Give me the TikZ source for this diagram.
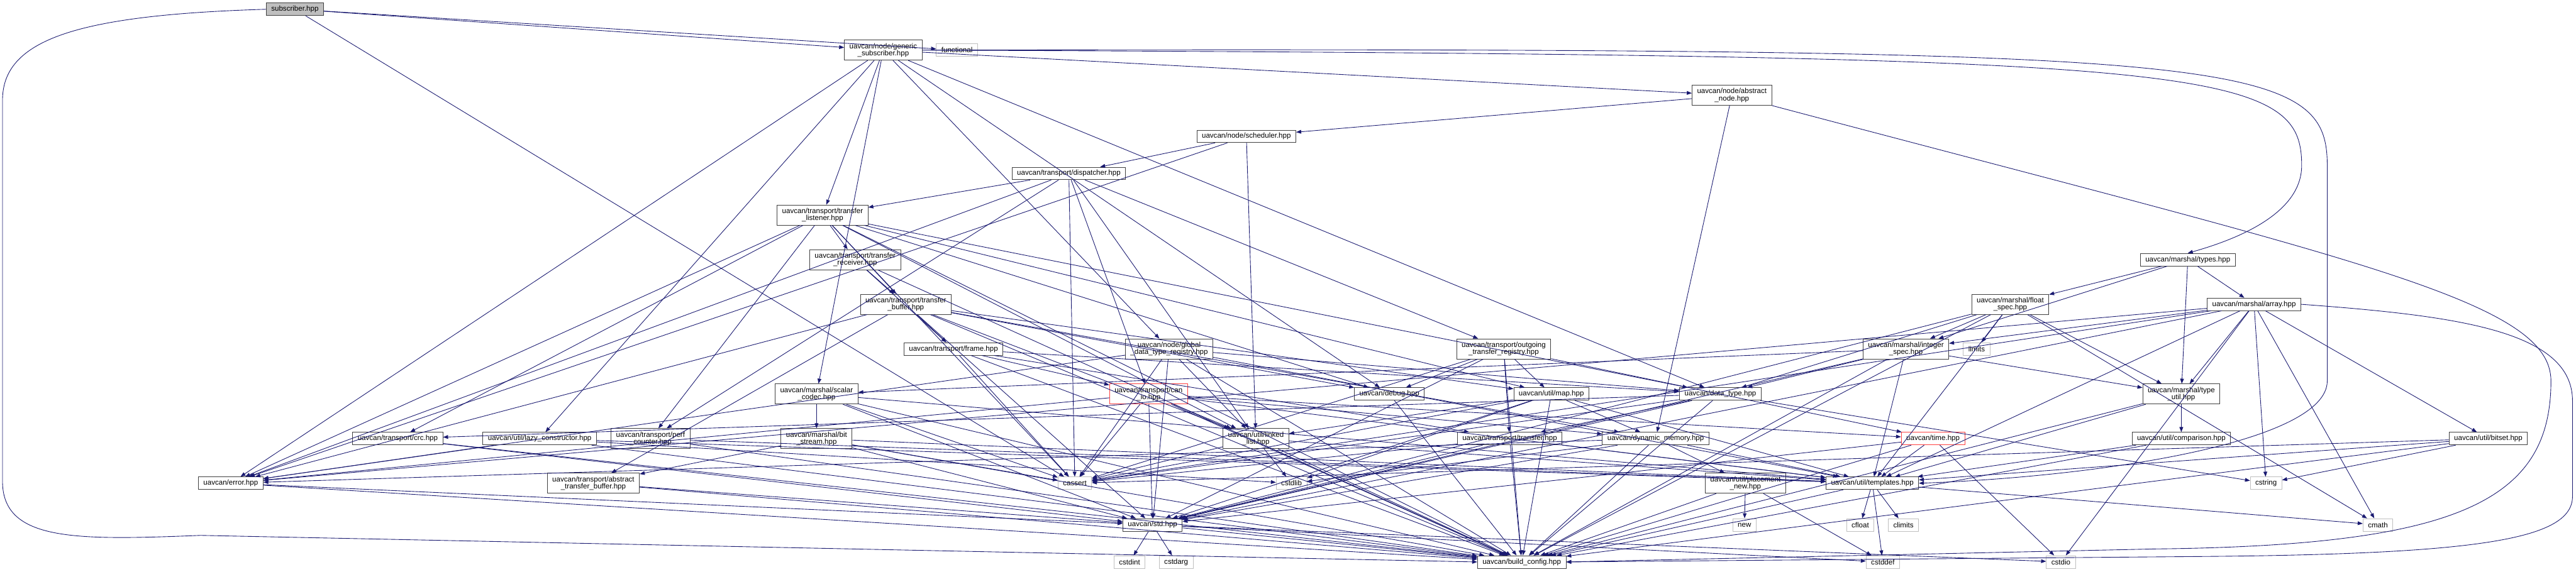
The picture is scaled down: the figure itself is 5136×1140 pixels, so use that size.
\documentclass[tikz,border=0pt]{standalone}
\usepackage{fontspec}
\setmainfont{Liberation Sans}
\usepackage{xcolor}
\usetikzlibrary{arrows.meta}
\definecolor{edgeblue}{HTML}{191970}
\definecolor{extgray}{HTML}{BFBFBF}
\definecolor{boxgray}{HTML}{404040}
\definecolor{cutred}{HTML}{FF4040}

\begin{document}
\begin{tikzpicture}[x=1pt,y=1pt,
  file/.style={draw=boxgray,line width=1.1pt,fill=white,font=\fontsize{14.5}{14}\selectfont,
    inner xsep=10pt,inner ysep=3pt,minimum height=25pt,align=center},
  twoline/.style={minimum height=40pt},
  sys/.style={file,draw=extgray},
  cut/.style={file,draw=cutred},
  topfile/.style={file,fill=extgray},
  inc/.style={draw=edgeblue,line width=1.1pt,-{Triangle[length=10pt,width=7.5pt]}}]
\useasboundingbox (0,0) rectangle (5136,-1140);
% files, row by row
\node[topfile] (sub) at (588,-18.5) {subscriber.hpp};
\node[file,twoline] (gsub) at (1761,-100) {uavcan/node/generic\\\_subscriber.hpp};
\node[sys] (func) at (1908,-100) {functional};
\node[file,twoline] (anode) at (3453,-190) {uavcan/node/abstract\\\_node.hpp};
\node[file] (sched) at (2485,-272) {uavcan/node/scheduler.hpp};
\node[file] (disp) at (2131,-346) {uavcan/transport/dispatcher.hpp};
\node[file,twoline] (tlis) at (1640,-429) {uavcan/transport/transfer\\\_listener.hpp};
\node[file,twoline] (trec) at (1705,-518) {uavcan/transport/transfer\\\_receiver.hpp};
\node[file] (types) at (4362,-518) {uavcan/marshal/types.hpp};
\node[file,twoline] (tbuf) at (1806,-607) {uavcan/transport/transfer\\\_buffer.hpp};
\node[file,twoline] (fspec) at (4008,-607) {uavcan/marshal/float\\\_spec.hpp};
\node[file] (array) at (4494,-607) {uavcan/marshal/array.hpp};
\node[file] (frame) at (1901,-696) {uavcan/transport/frame.hpp};
\node[file,twoline] (gdtr) at (2331,-696) {uavcan/node/global\\\_data\_type\_registry.hpp};
\node[file,twoline] (otr) at (2998,-696) {uavcan/transport/outgoing\\\_transfer\_registry.hpp};
\node[file,twoline] (ispec) at (3800,-696) {uavcan/marshal/integer\\\_spec.hpp};
\node[sys] (limits) at (3941,-696) {limits};
\node[file,twoline] (scodec) at (1628,-786) {uavcan/marshal/scalar\\\_codec.hpp};
\node[cut,twoline] (canio) at (2290,-786) {uavcan/transport/can\\\_io.hpp};
\node[file] (debug) at (2770,-786) {uavcan/debug.hpp};
\node[file] (map) at (3093,-786) {uavcan/util/map.hpp};
\node[file] (dtype) at (3430,-786) {uavcan/data\_type.hpp};
\node[file,twoline] (tutil) at (4349,-786) {uavcan/marshal/type\\\_util.hpp};
\node[file] (crc) at (793,-875) {uavcan/transport/crc.hpp};
\node[file] (lazy) at (1076,-875) {uavcan/util/lazy\_constructor.hpp};
\node[file,twoline] (perf) at (1297,-875) {uavcan/transport/perf\\\_counter.hpp};
\node[file,twoline] (bstream) at (1628,-875) {uavcan/marshal/bit\\\_stream.hpp};
\node[file,twoline] (llist) at (2504,-875) {uavcan/util/linked\\\_list.hpp};
\node[file] (transfer) at (3010,-875) {uavcan/transport/transfer.hpp};
\node[file] (dynmem) at (3301,-875) {uavcan/dynamic\_memory.hpp};
\node[cut] (time) at (3854,-875) {uavcan/time.hpp};
\node[file] (cmp) at (4349,-875) {uavcan/util/comparison.hpp};
\node[file] (bitset) at (4961,-875) {uavcan/util/bitset.hpp};
\node[file] (error) at (460,-964) {uavcan/error.hpp};
\node[file,twoline] (atbuf) at (1183,-964) {uavcan/transport/abstract\\\_transfer\_buffer.hpp};
\node[sys] (cassert) at (2143,-964) {cassert};
\node[sys] (cstdlib) at (2575,-964) {cstdlib};
\node[file,twoline] (pnew) at (3480,-964) {uavcan/util/placement\\\_new.hpp};
\node[file] (templ) at (3733,-964) {uavcan/util/templates.hpp};
\node[sys] (cstring) at (4518,-964) {cstring};
\node[file] (std) at (2298,-1047) {uavcan/std.hpp};
\node[sys] (new) at (3478,-1047) {new};
\node[sys] (cfloat) at (3709,-1047) {cfloat};
\node[sys] (climits) at (3795,-1047) {climits};
\node[sys] (cmath) at (4741,-1047) {cmath};
\node[sys] (cstdint) at (2252,-1121) {cstdint};
\node[sys] (cstdarg) at (2345,-1121) {cstdarg};
\node[file] (bconf) at (3034,-1121) {uavcan/build\_config.hpp};
\node[sys] (cstddef) at (3754,-1121) {cstddef};
\node[sys] (cstdio) at (4109,-1121) {cstdio};
% way points of the long edges
\coordinate (lefttop) at (5,-200);
\coordinate (leftbot) at (5,-960);
\coordinate (leftfoot) at (400,-1068);
\coordinate (typesdrop) at (4589,-330);
\coordinate (templtop) at (4640,-330);
\coordinate (templbot) at (4640,-760);
\coordinate (nodeside) at (5086,-760);
\coordinate (nodefoot) at (4300,-1095);
\coordinate (arraytop) at (5129,-800);
\coordinate (arraybot) at (5129,-990);
\coordinate (arrayfoot) at (4400,-1110);
% includes
\foreach \s/\t in {sub/gsub,sub/func,sub/cassert,
  gsub/anode,gsub/tlis,gsub/gdtr,gsub/debug,gsub/dtype,gsub/error,gsub/lazy,gsub/scodec,
  anode/sched,anode/dynmem,
  sched/disp,sched/error,sched/llist,
  disp/tlis,disp/otr,disp/canio,disp/cassert,disp/error,disp/perf,disp/llist,
  tlis/trec,tlis/error,tlis/perf,tlis/crc,tlis/tbuf,tlis/llist,tlis/map,tlis/debug,tlis/dtype,tlis/bconf,tlis/cassert,
  trec/tbuf,trec/frame,trec/bconf,
  tbuf/frame,tbuf/atbuf,tbuf/llist,tbuf/dynmem,tbuf/error,tbuf/debug,tbuf/map,tbuf/bconf,tbuf/std,
  frame/canio,frame/cassert,frame/transfer,frame/dtype,frame/bconf,
  gdtr/llist,gdtr/cassert,gdtr/error,gdtr/dtype,gdtr/templ,gdtr/std,gdtr/bconf,
  otr/debug,otr/map,otr/transfer,otr/time,otr/cassert,otr/std,otr/bconf,
  types/ispec,types/fspec,types/tutil,types/array,
  fspec/ispec,fspec/limits,fspec/dtype,fspec/templ,fspec/tutil,fspec/cmath,fspec/std,fspec/bconf,
  array/tutil,array/bitset,array/cstring,array/cmath,array/ispec,array/templ,array/cassert,array/cstdio,array/error,array/std,
  ispec/dtype,ispec/scodec,ispec/tutil,ispec/templ,ispec/std,ispec/bconf,
  tutil/cmp,tutil/templ,tutil/bconf,cmp/templ,cmp/bconf,
  bitset/cstring,bitset/cassert,bitset/templ,bitset/bconf,
  scodec/bstream,scodec/cassert,scodec/templ,scodec/std,scodec/bconf,
  bstream/atbuf,bstream/templ,bstream/std,bstream/bconf,bstream/cassert,
  atbuf/std,atbuf/bconf,perf/templ,perf/bconf,
  lazy/error,lazy/cstdlib,lazy/templ,lazy/bconf,
  crc/std,crc/bconf,error/std,error/bconf,
  canio/cassert,canio/std,canio/llist,canio/dynmem,canio/time,canio/error,canio/bconf,canio/templ,
  time/templ,time/cstdio,time/std,time/bconf,
  dynmem/pnew,dynmem/templ,dynmem/cstdlib,dynmem/std,dynmem/error,dynmem/bconf,
  pnew/new,pnew/cstddef,pnew/bconf,
  templ/cfloat,templ/climits,templ/cstddef,templ/cmath,templ/bconf,
  llist/cassert,llist/cstdlib,llist/templ,llist/bconf,
  map/llist,map/cstdlib,map/dynmem,map/cassert,map/templ,map/bconf,map/std,
  transfer/bconf,transfer/std,transfer/cassert,transfer/templ,
  debug/bconf,
  dtype/transfer,dtype/crc,dtype/cassert,dtype/cstring,dtype/std,dtype/bconf,
  std/cstdint,std/cstdarg,std/cstddef,std/cstdio,std/bconf}
  \draw[inc] (\s) -- (\t);
% long edges round the outside
\draw[inc] (sub.west) .. controls (150,-30) and (5,-80) .. (lefttop) -- (leftbot)
  .. controls (5,-1080) and (150,-1078) .. (leftfoot) -- (bconf.west);
\draw[inc] (gsub.east) .. controls (4400,-110) and (4589,-130) .. (typesdrop)
  .. controls (4589,-430) and (4450,-480) .. (types.north);
\draw[inc] (gsub.east) .. controls (4450,-95) and (4640,-110) .. (templtop) -- (templbot)
  .. controls (4640,-880) and (4200,-950) .. (templ.east);
\draw[inc] (anode.south east) .. controls (4700,-520) and (5086,-600) .. (nodeside)
  .. controls (5086,-1000) and (4900,-1088) .. (nodefoot) -- (bconf.east);
\draw[inc] (array.east) .. controls (4900,-630) and (5129,-660) .. (arraytop) -- (arraybot)
  .. controls (5129,-1075) and (4950,-1105) .. (arrayfoot) -- (bconf.east);
\end{tikzpicture}
\end{document}
